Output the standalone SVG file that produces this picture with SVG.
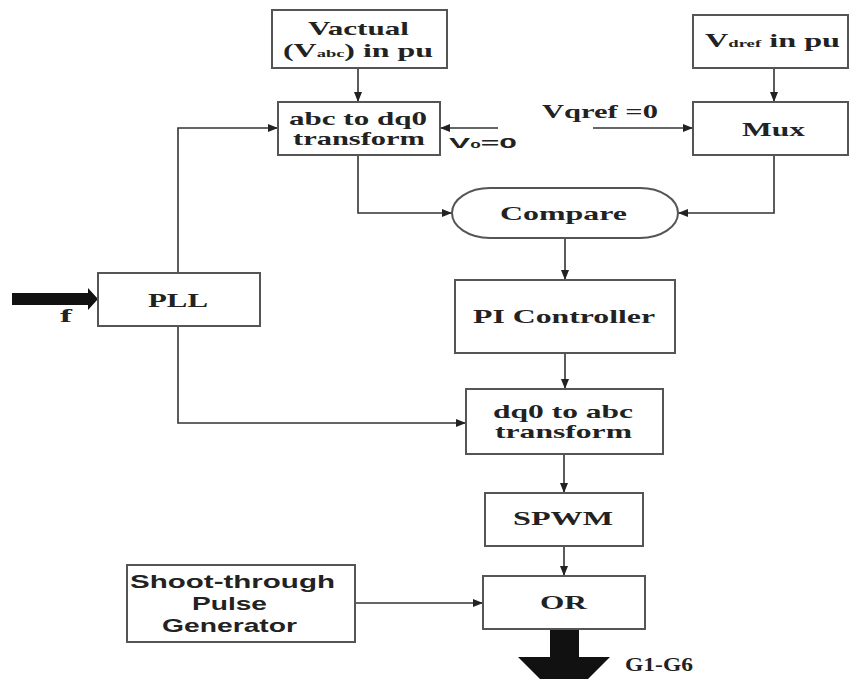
<svg xmlns="http://www.w3.org/2000/svg" width="849" height="679" viewBox="0 0 849 679">
<style>
.box{fill:#fff;stroke:#555;stroke-width:2}
.t{font-family:"Liberation Serif","Times New Roman",serif;font-weight:bold;fill:#222;font-size:19px}
.s{font-family:"Liberation Sans",Arial,sans-serif;font-weight:bold;fill:#222}
.c{fill:none;stroke:#333;stroke-width:1.6}
</style>
<defs>
<marker id="ah" markerUnits="userSpaceOnUse" markerWidth="10" markerHeight="8" refX="10" refY="4" orient="auto">
<path d="M0,0 L10,4 L0,8 z" fill="#222"/>
</marker>
</defs>
<rect width="849" height="679" fill="#fff"/>
<g id="connectors">
<path class="c" d="M358,68 V102" marker-end="url(#ah)"/>
<path class="c" d="M178,273 V128 H278" marker-end="url(#ah)"/>
<path class="c" d="M498,128 H440" marker-end="url(#ah)"/>
<path class="c" d="M358,155 V213 H452" marker-end="url(#ah)"/>
<path class="c" d="M774,68 V102" marker-end="url(#ah)"/>
<path class="c" d="M593,128 H693" marker-end="url(#ah)"/>
<path class="c" d="M774,155 V213 H678" marker-end="url(#ah)"/>
<path class="c" d="M565,238 V280" marker-end="url(#ah)"/>
<path class="c" d="M565,353 V389" marker-end="url(#ah)"/>
<path class="c" d="M178,326 V423 H466" marker-end="url(#ah)"/>
<path class="c" d="M564,454 V493" marker-end="url(#ah)"/>
<path class="c" d="M564,546 V576" marker-end="url(#ah)"/>
<path class="c" d="M355,603 H483" marker-end="url(#ah)"/>
<path d="M12,293 H88 V288 L98,299 L88,310 V305 H12 Z" fill="#111"/>
<path d="M550,629 H579 V657 H610 L564,703 L518,657 H550 Z" fill="#111"/>
</g>
<g id="vactual">
<rect class="box" x="272" y="10" width="175" height="58"/>
<text class="t" x="308" y="35" textLength="101" lengthAdjust="spacingAndGlyphs">Vactual</text>
<text class="t" x="283" y="57" textLength="150" lengthAdjust="spacingAndGlyphs">(V<tspan font-size="11">abc</tspan>) in pu</text>
</g>
<g id="abc2dq0">
<rect class="box" x="278" y="102" width="162" height="53"/>
<text class="t" x="289" y="125" textLength="138" lengthAdjust="spacingAndGlyphs">abc to dq0</text>
<text class="t" x="293" y="145" textLength="132" lengthAdjust="spacingAndGlyphs">transform</text>
</g>
<g id="v0label">
<text class="s" x="449" y="148" font-size="15" textLength="68" lengthAdjust="spacingAndGlyphs">V<tspan font-size="9">0</tspan>=0</text>
</g>
<g id="vdref">
<rect class="box" x="693" y="15" width="155" height="53"/>
<text class="t" x="705" y="47" textLength="135" lengthAdjust="spacingAndGlyphs">V<tspan font-size="11">dref</tspan> in pu</text>
</g>
<g id="mux">
<rect class="box" x="693" y="102" width="155" height="53"/>
<text class="t" x="742" y="136" textLength="63" lengthAdjust="spacingAndGlyphs">Mux</text>
</g>
<g id="vqref">
<text class="t" x="542" y="118" textLength="116" lengthAdjust="spacingAndGlyphs">Vqref =0</text>
</g>
<g id="compare">
<rect class="box" x="452" y="188" width="226" height="50" rx="38" ry="25"/>
<text class="t" x="500" y="220" textLength="127" lengthAdjust="spacingAndGlyphs">Compare</text>
</g>
<g id="pi">
<rect class="box" x="455" y="280" width="220" height="73"/>
<text class="t" x="473" y="323" textLength="182" lengthAdjust="spacingAndGlyphs">PI Controller</text>
</g>
<g id="pll">
<rect class="box" x="98" y="273" width="162" height="53"/>
<text class="t" x="148" y="307" textLength="60" lengthAdjust="spacingAndGlyphs">PLL</text>
</g>
<g id="flabel">
<text class="t" x="60" y="322" font-size="15" textLength="12" lengthAdjust="spacingAndGlyphs">f</text>
</g>
<g id="dq02abc">
<rect class="box" x="466" y="389" width="197" height="65"/>
<text class="t" x="493" y="418" textLength="140" lengthAdjust="spacingAndGlyphs">dq0 to abc</text>
<text class="t" x="495" y="438" textLength="137" lengthAdjust="spacingAndGlyphs">transform</text>
</g>
<g id="spwm">
<rect class="box" x="485" y="493" width="158" height="53"/>
<text class="t" x="513" y="525" textLength="100" lengthAdjust="spacingAndGlyphs">SPWM</text>
</g>
<g id="or">
<rect class="box" x="483" y="576" width="162" height="53"/>
<text class="t" x="540" y="609" textLength="47" lengthAdjust="spacingAndGlyphs">OR</text>
</g>
<g id="shoot">
<rect class="box" x="127" y="565" width="228" height="77"/>
<text class="s" x="130" y="588" font-size="19" textLength="205" lengthAdjust="spacingAndGlyphs">Shoot-through</text>
<text class="s" x="192" y="610" font-size="19" textLength="75" lengthAdjust="spacingAndGlyphs">Pulse</text>
<text class="s" x="162" y="632" font-size="19" textLength="135" lengthAdjust="spacingAndGlyphs">Generator</text>
</g>
<g id="g1g6">
<text class="t" x="625" y="671" font-size="18" textLength="68" lengthAdjust="spacingAndGlyphs">G1-G6</text>
</g>
</svg>
